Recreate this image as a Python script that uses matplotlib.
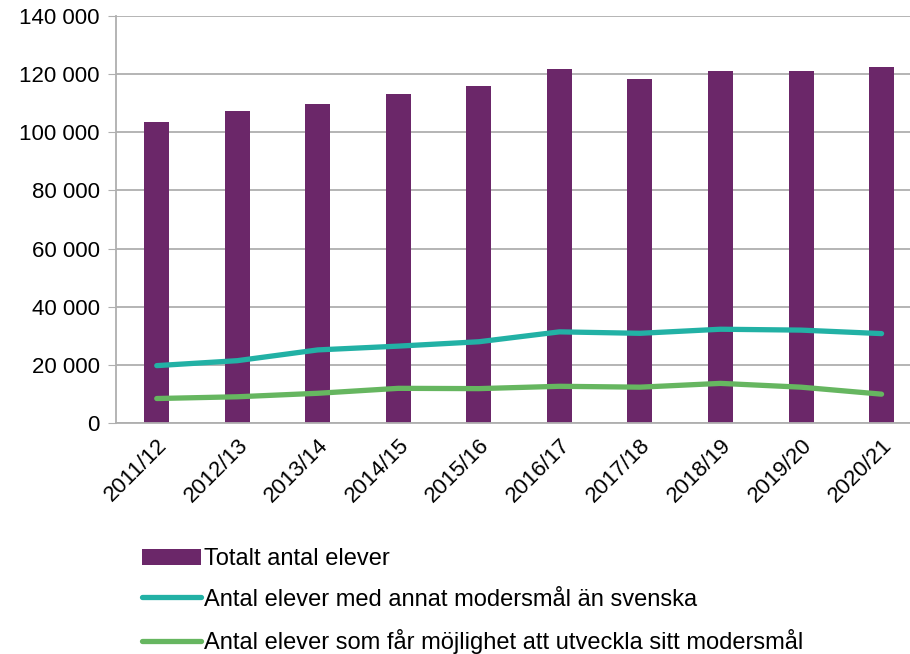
import matplotlib.pyplot as plt

plt.rcParams['font.family'] = ['Liberation Sans', 'DejaVu Sans']

years = ["2011/12", "2012/13", "2013/14", "2014/15", "2015/16",
         "2016/17", "2017/18", "2018/19", "2019/20", "2020/21"]
totalt = [103500, 107200, 109600, 113100, 115900, 121800, 118200, 121000, 120900, 122500]
annat_modersmal = [19800, 21500, 25200, 26500, 28000, 31400, 30900, 32300, 32000, 30800]
utveckla = [8500, 9100, 10300, 12000, 11900, 12700, 12400, 13700, 12400, 10000]

purple = '#6B2769'
teal = '#22B1A5'
green = '#66B660'
grid_gray = '#AFAFAF'

fig = plt.figure(figsize=(9.1, 6.54), dpi=100)
ax = fig.add_axes([0.128, 0.3528, 0.885, 0.6232])

x = range(len(years))
bars = ax.bar(x, totalt, width=0.31, color=purple, label='Totalt antal elever', zorder=2)
l1, = ax.plot(x, annat_modersmal, color=teal, lw=3.8, solid_capstyle='round', solid_joinstyle='round',
              label='Antal elever med annat modersmål än svenska', zorder=3)
l2, = ax.plot(x, utveckla, color=green, lw=3.8, solid_capstyle='round', solid_joinstyle='round',
              label='Antal elever som får möjlighet att utveckla sitt modersmål', zorder=3)

ax.set_xlim(-0.5, 9.5)
ax.set_ylim(0, 140000)
ax.set_yticks(range(0, 140001, 20000))
ax.set_yticklabels([f"{v:,}".replace(",", " ") for v in range(0, 140001, 20000)])
ax.set_xticks(list(x))
ax.set_xticklabels(years, rotation=45, ha='right', rotation_mode='anchor')

ax.grid(axis='y', color=grid_gray, lw=1.3, zorder=0)
for side in ['top', 'right']:
    ax.spines[side].set_visible(False)
ax.spines['left'].set_color(grid_gray)
ax.spines['bottom'].set_color(grid_gray)
ax.spines['left'].set_linewidth(1.3)
ax.spines['bottom'].set_linewidth(1.3)
ax.tick_params(axis='y', length=6, color=grid_gray, labelsize=16, pad=6)
ax.tick_params(axis='x', length=0, labelsize=16, pad=8)

fig.legend(handles=[bars, l1, l2], loc='upper left', bbox_to_anchor=(0.146, 0.176),
           frameon=False, fontsize=17, handlelength=2.5, handletextpad=0.1,
           labelspacing=0.78, borderaxespad=0)

fig.savefig('out.png', dpi=100)
